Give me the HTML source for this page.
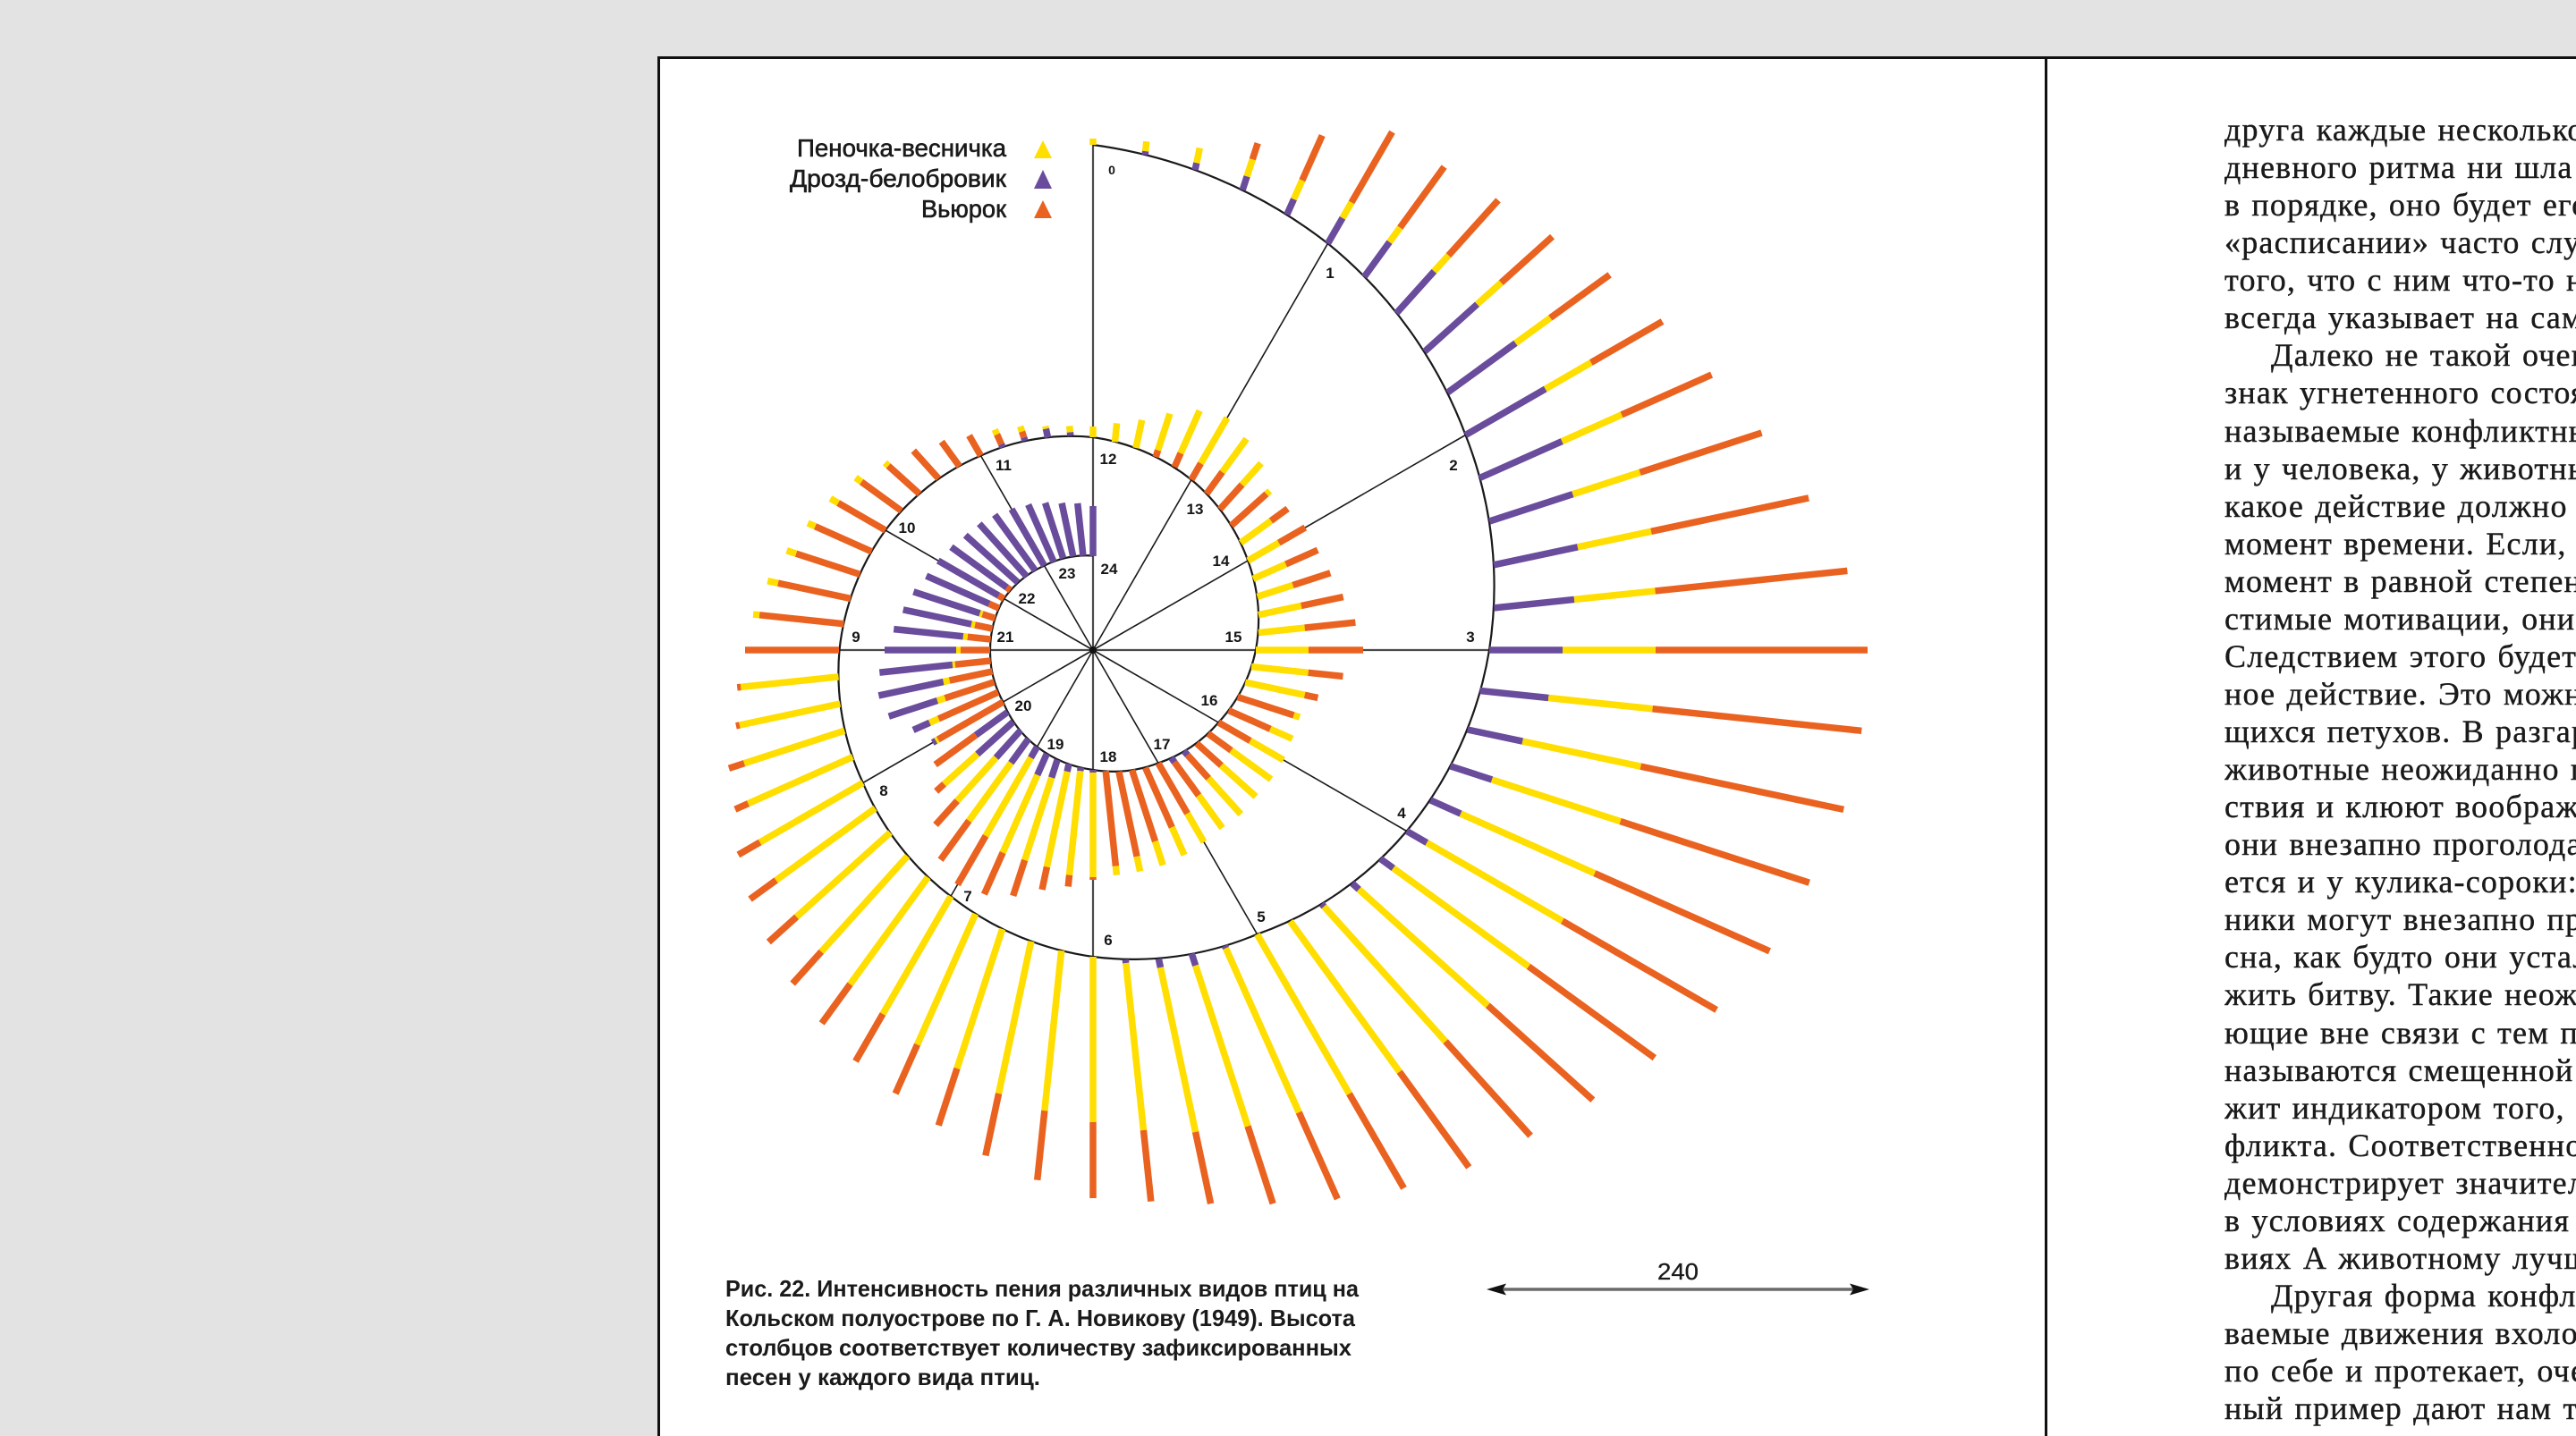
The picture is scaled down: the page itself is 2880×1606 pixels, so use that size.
<!DOCTYPE html>
<html><head><meta charset="utf-8">
<style>
html,body{margin:0;padding:0;width:2880px;height:1606px;overflow:hidden;background:#e3e3e3}
#clip{position:absolute;left:2487px;top:0;width:393px;height:1606px;overflow:hidden}
#t{position:absolute;left:0;top:124px;font-family:"Liberation Serif","DejaVu Serif",serif;font-size:36px;line-height:42.06px;color:#1a1a1a;white-space:nowrap;letter-spacing:1.2px;word-spacing:2px;-webkit-text-stroke:0.4px #1a1a1a}
#t div.i{padding-left:52px}
.b path{fill:none;stroke-width:7.5}
.p{stroke:#6a4c9c}.y{stroke:#ffde00}.o{stroke:#ea6220}
.lab{font-family:"Liberation Sans",sans-serif;font-size:17px;font-weight:bold;fill:#151515;text-anchor:middle}
</style></head><body>
<svg width="2880" height="1606" style="position:absolute;left:0;top:0" xmlns="http://www.w3.org/2000/svg">
<rect x="0" y="0" width="2880" height="1606" fill="#e3e3e3"/>
<rect x="736" y="64" width="2144" height="1542" fill="#ffffff"/>
<rect x="735" y="63" width="3" height="1543" fill="#111"/>
<rect x="735" y="63" width="2145" height="3" fill="#111"/>
<rect x="2286" y="63" width="3" height="1543" fill="#111"/>

<g stroke="#1a1a1a" stroke-width="1.6" fill="none">
<path d="M1222 727L1484.5 272.3M1222 727L1638.5 486.5M1222 727L1572.7 929.5M1222 727L1405.5 1044.8M1222 727L1063 1002.4M1222 727L964.8 875.5M1222 727L989.9 593M1222 727L1096.5 509.6"/>
</g>
<g stroke="#4a4a4a" stroke-width="2.2" fill="none">
<path d="M1222 727L1222 162M1222 727L1665 727M1222 727L1222 1070M1222 727L938.5 727"/>
</g>

<path fill="none" stroke="#1a1a1a" stroke-width="2.2" d="M1222 162 A545 545 0 0 1 1484.5 272.3 A503 503 0 0 1 1638.5 486.5 A462 462 0 0 1 1665 727 A424 424 0 0 1 1572.7 929.5 A386 386 0 0 1 1405.5 1044.8 A355 355 0 0 1 1222 1070 A330 330 0 0 1 1063 1002.4 A307 307 0 0 1 964.8 875.5 A290 290 0 0 1 938.5 727 A276 276 0 0 1 989.9 593 A259 259 0 0 1 1096.5 509.6 A244 244 0 0 1 1222 489 A229 229 0 0 1 1332 536.5 A210 210 0 0 1 1395.2 627 A191 191 0 0 1 1404 727 A172 172 0 0 1 1362.3 808 A154 154 0 0 1 1295 853.4 A140 140 0 0 1 1222 861 A129.5 129.5 0 0 1 1159.5 835.3 A120.5 120.5 0 0 1 1121.5 785 A115.5 115.5 0 0 1 1107 727 A115 115 0 0 1 1122.4 669.5 A112 112 0 0 1 1167.5 632.6 A107 107 0 0 1 1222 621.5"/>

<g class="b" transform="translate(1222 727)">
<g transform="rotate(0)"><path class="y" d="M0-565V-572"/></g>
<g transform="rotate(6)"><path class="p" d="M0-557V-561"/><path class="y" d="M0-561V-572"/></g>
<g transform="rotate(12)"><path class="p" d="M0-549V-557"/><path class="y" d="M0-557V-574"/></g>
<g transform="rotate(18)"><path class="p" d="M0-541V-557"/><path class="y" d="M0-557V-577"/><path class="o" d="M0-577V-596"/></g>
<g transform="rotate(24)"><path class="p" d="M0-533V-552"/><path class="y" d="M0-552V-575"/><path class="o" d="M0-575V-630"/></g>
<g transform="rotate(30)"><path class="p" d="M0-525V-558"/><path class="y" d="M0-558V-578"/><path class="o" d="M0-578V-669"/></g>
<g transform="rotate(36)"><path class="p" d="M0-516V-564"/><path class="y" d="M0-564V-584"/><path class="o" d="M0-584V-668"/></g>
<g transform="rotate(42)"><path class="p" d="M0-507V-570"/><path class="y" d="M0-570V-594"/><path class="o" d="M0-594V-677"/></g>
<g transform="rotate(48)"><path class="p" d="M0-499V-578"/><path class="y" d="M0-578V-614"/><path class="o" d="M0-614V-691"/></g>
<g transform="rotate(54)"><path class="p" d="M0-490V-584"/><path class="y" d="M0-584V-632"/><path class="o" d="M0-632V-714"/></g>
<g transform="rotate(60)"><path class="p" d="M0-481V-584"/><path class="y" d="M0-584V-643"/><path class="o" d="M0-643V-735"/></g>
<g transform="rotate(66)"><path class="p" d="M0-473V-574"/><path class="y" d="M0-574V-647"/><path class="o" d="M0-647V-757"/></g>
<g transform="rotate(72)"><path class="p" d="M0-466V-564"/><path class="y" d="M0-564V-643"/><path class="o" d="M0-643V-786"/></g>
<g transform="rotate(78)"><path class="p" d="M0-458V-554"/><path class="y" d="M0-554V-638"/><path class="o" d="M0-638V-818"/></g>
<g transform="rotate(84)"><path class="p" d="M0-451V-541"/><path class="y" d="M0-541V-632"/><path class="o" d="M0-632V-848"/></g>
<g transform="rotate(90)"><path class="p" d="M0-443V-525"/><path class="y" d="M0-525V-629"/><path class="o" d="M0-629V-866"/></g>
<g transform="rotate(96)"><path class="p" d="M0-435V-512"/><path class="y" d="M0-512V-629"/><path class="o" d="M0-629V-864"/></g>
<g transform="rotate(102)"><path class="p" d="M0-428V-491"/><path class="y" d="M0-491V-626"/><path class="o" d="M0-626V-858"/></g>
<g transform="rotate(108)"><path class="p" d="M0-420V-469"/><path class="y" d="M0-469V-620"/><path class="o" d="M0-620V-842"/></g>
<g transform="rotate(114)"><path class="p" d="M0-413V-450"/><path class="y" d="M0-450V-614"/><path class="o" d="M0-614V-828"/></g>
<g transform="rotate(120)"><path class="p" d="M0-405V-431"/><path class="y" d="M0-431V-606"/><path class="o" d="M0-606V-805"/></g>
<g transform="rotate(126)"><path class="p" d="M0-397V-415"/><path class="y" d="M0-415V-602"/><path class="o" d="M0-602V-776"/></g>
<g transform="rotate(132)"><path class="p" d="M0-390V-400"/><path class="y" d="M0-400V-594"/><path class="o" d="M0-594V-752"/></g>
<g transform="rotate(138)"><path class="p" d="M0-382V-386"/><path class="y" d="M0-386V-589"/><path class="o" d="M0-589V-731"/></g>
<g transform="rotate(144)"><path class="y" d="M0-375V-583"/><path class="o" d="M0-583V-715"/></g>
<g transform="rotate(150)"><path class="y" d="M0-367V-573"/><path class="o" d="M0-573V-695"/></g>
<g transform="rotate(156)"><path class="p" d="M0-362V-365"/><path class="y" d="M0-365V-566"/><path class="o" d="M0-566V-672"/></g>
<g transform="rotate(162)"><path class="p" d="M0-357V-371"/><path class="y" d="M0-371V-560"/><path class="o" d="M0-560V-651"/></g>
<g transform="rotate(168)"><path class="p" d="M0-353V-363"/><path class="y" d="M0-363V-551"/><path class="o" d="M0-551V-633"/></g>
<g transform="rotate(174)"><path class="p" d="M0-348V-352"/><path class="y" d="M0-352V-540"/><path class="o" d="M0-540V-620"/></g>
<g transform="rotate(180)"><path class="y" d="M0-343V-528"/><path class="o" d="M0-528V-613"/></g>
<g transform="rotate(186)"><path class="y" d="M0-338V-518"/><path class="o" d="M0-518V-596"/></g>
<g transform="rotate(192)"><path class="y" d="M0-333V-507"/><path class="o" d="M0-507V-578"/></g>
<g transform="rotate(198)"><path class="y" d="M0-328V-492"/><path class="o" d="M0-492V-559"/></g>
<g transform="rotate(204)"><path class="y" d="M0-323V-483"/><path class="o" d="M0-483V-543"/></g>
<g transform="rotate(210)"><path class="y" d="M0-318V-470"/><path class="o" d="M0-470V-531"/></g>
<g transform="rotate(216)"><path class="y" d="M0-314V-462"/><path class="o" d="M0-462V-516"/></g>
<g transform="rotate(222)"><path class="y" d="M0-310V-454"/><path class="o" d="M0-454V-502"/></g>
<g transform="rotate(228)"><path class="y" d="M0-305V-446"/><path class="o" d="M0-446V-488"/></g>
<g transform="rotate(234)"><path class="y" d="M0-301V-438"/><path class="o" d="M0-438V-474"/></g>
<g transform="rotate(240)"><path class="y" d="M0-297V-430"/><path class="o" d="M0-430V-458"/></g>
<g transform="rotate(246)"><path class="y" d="M0-294V-422"/><path class="o" d="M0-422V-438"/></g>
<g transform="rotate(252)"><path class="y" d="M0-292V-410"/><path class="o" d="M0-410V-428"/></g>
<g transform="rotate(258)"><path class="y" d="M0-289V-404"/><path class="o" d="M0-404V-408"/></g>
<g transform="rotate(264)"><path class="y" d="M0-286V-396"/><path class="o" d="M0-396V-400"/></g>
<g transform="rotate(270)"><path class="o" d="M0-284V-389"/></g>
<g transform="rotate(276)"><path class="o" d="M0-280V-375"/><path class="y" d="M0-375V-382"/></g>
<g transform="rotate(282)"><path class="o" d="M0-277V-360"/><path class="y" d="M0-360V-372"/></g>
<g transform="rotate(288)"><path class="o" d="M0-274V-349"/><path class="y" d="M0-349V-360"/></g>
<g transform="rotate(294)"><path class="o" d="M0-271V-340"/><path class="y" d="M0-340V-349"/></g>
<g transform="rotate(300)"><path class="o" d="M0-268V-329"/><path class="y" d="M0-329V-339"/></g>
<g transform="rotate(306)"><path class="o" d="M0-265V-320"/><path class="y" d="M0-320V-328"/></g>
<g transform="rotate(312)"><path class="o" d="M0-261V-308"/><path class="y" d="M0-308V-313"/></g>
<g transform="rotate(318)"><path class="o" d="M0-258V-300"/></g>
<g transform="rotate(324)"><path class="o" d="M0-254V-288"/></g>
<g transform="rotate(330)"><path class="o" d="M0-251V-277"/></g>
<g transform="rotate(336)"><path class="p" d="M0-248V-252"/><path class="o" d="M0-252V-264"/><path class="y" d="M0-264V-270"/></g>
<g transform="rotate(342)"><path class="p" d="M0-246V-250"/><path class="o" d="M0-250V-257"/><path class="y" d="M0-257V-263"/></g>
<g transform="rotate(348)"><path class="p" d="M0-243V-253"/><path class="y" d="M0-253V-256"/></g>
<g transform="rotate(354)"><path class="p" d="M0-241V-245"/><path class="y" d="M0-245V-252"/></g>
<g transform="rotate(0)"><path class="y" d="M0-238V-250"/></g>
<g transform="rotate(6)"><path class="y" d="M0-234V-255"/></g>
<g transform="rotate(12)"><path class="y" d="M0-231V-263"/></g>
<g transform="rotate(18)"><path class="o" d="M0-227V-235"/><path class="y" d="M0-235V-278"/></g>
<g transform="rotate(24)"><path class="o" d="M0-224V-241"/><path class="y" d="M0-241V-293"/></g>
<g transform="rotate(30)"><path class="o" d="M0-220V-241"/><path class="y" d="M0-241V-300"/></g>
<g transform="rotate(36)"><path class="o" d="M0-216V-246"/><path class="y" d="M0-246V-292"/></g>
<g transform="rotate(42)"><path class="o" d="M0-212V-249"/><path class="y" d="M0-249V-281"/></g>
<g transform="rotate(48)"><path class="o" d="M0-208V-261"/><path class="y" d="M0-261V-266"/></g>
<g transform="rotate(54)"><path class="y" d="M0-204V-246"/><path class="o" d="M0-246V-269"/></g>
<g transform="rotate(60)"><path class="y" d="M0-200V-240"/><path class="o" d="M0-240V-274"/></g>
<g transform="rotate(66)"><path class="y" d="M0-196V-236"/><path class="o" d="M0-236V-275"/></g>
<g transform="rotate(72)"><path class="y" d="M0-193V-235"/><path class="o" d="M0-235V-279"/></g>
<g transform="rotate(78)"><path class="y" d="M0-189V-238"/><path class="o" d="M0-238V-286"/></g>
<g transform="rotate(84)"><path class="y" d="M0-186V-238"/><path class="o" d="M0-238V-295"/></g>
<g transform="rotate(90)"><path class="y" d="M0-182V-241"/><path class="o" d="M0-241V-302"/></g>
<g transform="rotate(96)"><path class="y" d="M0-178V-242"/><path class="o" d="M0-242V-281"/></g>
<g transform="rotate(102)"><path class="y" d="M0-174V-242"/><path class="o" d="M0-242V-257"/></g>
<g transform="rotate(108)"><path class="o" d="M0-170V-236"/><path class="y" d="M0-236V-243"/></g>
<g transform="rotate(114)"><path class="o" d="M0-166V-217"/><path class="y" d="M0-217V-244"/></g>
<g transform="rotate(120)"><path class="o" d="M0-162V-203"/><path class="y" d="M0-203V-246"/></g>
<g transform="rotate(126)"><path class="o" d="M0-159V-191"/><path class="y" d="M0-191V-246"/></g>
<g transform="rotate(132)"><path class="o" d="M0-156V-193"/><path class="y" d="M0-193V-245"/></g>
<g transform="rotate(138)"><path class="p" d="M0-152V-158"/><path class="o" d="M0-158V-193"/><path class="y" d="M0-193V-247"/></g>
<g transform="rotate(144)"><path class="p" d="M0-149V-155"/><path class="o" d="M0-155V-201"/><path class="y" d="M0-201V-246"/></g>
<g transform="rotate(150)"><path class="o" d="M0-146V-211"/><path class="y" d="M0-211V-248"/></g>
<g transform="rotate(156)"><path class="o" d="M0-144V-217"/><path class="y" d="M0-217V-251"/></g>
<g transform="rotate(162)"><path class="o" d="M0-141V-225"/><path class="y" d="M0-225V-253"/></g>
<g transform="rotate(168)"><path class="o" d="M0-139V-236"/><path class="y" d="M0-236V-253"/></g>
<g transform="rotate(174)"><path class="o" d="M0-136V-243"/><path class="y" d="M0-243V-253"/></g>
<g transform="rotate(180)"><path class="p" d="M0-134V-137"/><path class="y" d="M0-137V-254"/><path class="o" d="M0-254V-257"/></g>
<g transform="rotate(186)"><path class="p" d="M0-132V-136"/><path class="y" d="M0-136V-253"/><path class="o" d="M0-253V-266"/></g>
<g transform="rotate(192)"><path class="p" d="M0-130V-139"/><path class="y" d="M0-139V-248"/><path class="o" d="M0-248V-274"/></g>
<g transform="rotate(198)"><path class="p" d="M0-129V-150"/><path class="y" d="M0-150V-247"/><path class="o" d="M0-247V-289"/></g>
<g transform="rotate(204)"><path class="p" d="M0-127V-153"/><path class="y" d="M0-153V-248"/><path class="o" d="M0-248V-299"/></g>
<g transform="rotate(210)"><path class="p" d="M0-125V-139"/><path class="y" d="M0-139V-240"/><path class="o" d="M0-240V-303"/></g>
<g transform="rotate(216)"><path class="p" d="M0-123V-156"/><path class="y" d="M0-156V-236"/><path class="o" d="M0-236V-290"/></g>
<g transform="rotate(222)"><path class="p" d="M0-121V-162"/><path class="y" d="M0-162V-227"/><path class="o" d="M0-227V-263"/></g>
<g transform="rotate(228)"><path class="p" d="M0-120V-174"/><path class="y" d="M0-174V-224"/><path class="o" d="M0-224V-236"/></g>
<g transform="rotate(234)"><path class="p" d="M0-118V-162"/><path class="o" d="M0-162V-218"/></g>
<g transform="rotate(240)"><path class="o" d="M0-116V-200"/><path class="y" d="M0-200V-203"/><path class="p" d="M0-203V-207"/></g>
<g transform="rotate(246)"><path class="o" d="M0-116V-189"/><path class="y" d="M0-189V-200"/><path class="p" d="M0-200V-220"/></g>
<g transform="rotate(252)"><path class="o" d="M0-116V-174"/><path class="y" d="M0-174V-183"/><path class="p" d="M0-183V-240"/></g>
<g transform="rotate(258)"><path class="o" d="M0-115V-164"/><path class="y" d="M0-164V-171"/><path class="p" d="M0-171V-245"/></g>
<g transform="rotate(264)"><path class="o" d="M0-115V-155"/><path class="y" d="M0-155V-158"/><path class="p" d="M0-158V-240"/></g>
<g transform="rotate(270)"><path class="o" d="M0-115V-148"/><path class="y" d="M0-148V-153"/><path class="p" d="M0-153V-233"/></g>
<g transform="rotate(276)"><path class="o" d="M0-115V-141"/><path class="y" d="M0-141V-146"/><path class="p" d="M0-146V-224"/></g>
<g transform="rotate(282)"><path class="o" d="M0-115V-135"/><path class="y" d="M0-135V-139"/><path class="p" d="M0-139V-217"/></g>
<g transform="rotate(288)"><path class="o" d="M0-115V-130"/><path class="y" d="M0-130V-133"/><path class="p" d="M0-133V-211"/></g>
<g transform="rotate(294)"><path class="o" d="M0-115V-127"/><path class="p" d="M0-127V-204"/></g>
<g transform="rotate(300)"><path class="o" d="M0-115V-122"/><path class="p" d="M0-122V-200"/></g>
<g transform="rotate(306)"><path class="o" d="M0-114V-119"/><path class="p" d="M0-119V-196"/></g>
<g transform="rotate(312)"><path class="p" d="M0-113V-192"/></g>
<g transform="rotate(318)"><path class="p" d="M0-111V-190"/></g>
<g transform="rotate(324)"><path class="p" d="M0-110V-187"/></g>
<g transform="rotate(330)"><path class="p" d="M0-109V-182"/></g>
<g transform="rotate(336)"><path class="p" d="M0-108V-178"/></g>
<g transform="rotate(342)"><path class="p" d="M0-108V-173"/></g>
<g transform="rotate(348)"><path class="p" d="M0-107V-168"/></g>
<g transform="rotate(354)"><path class="p" d="M0-106V-165"/></g>
<g transform="rotate(360)"><path class="p" d="M0-105V-161"/></g>
</g>

<circle cx="1222" cy="727" r="4" fill="#111"/>

<g class="lab">
<text x="1243" y="195" style="font-size:14px">0</text>
<text x="1487" y="311">1</text>
<text x="1625" y="526">2</text>
<text x="1644" y="718">3</text>
<text x="1567" y="915">4</text>
<text x="1410" y="1031">5</text>
<text x="1239" y="1057">6</text>
<text x="1082" y="1008">7</text>
<text x="988" y="890">8</text>
<text x="957" y="718">9</text>
<text x="1014" y="596">10</text>
<text x="1122" y="526">11</text>
<text x="1239" y="519">12</text>
<text x="1336" y="575">13</text>
<text x="1365" y="633">14</text>
<text x="1379" y="718">15</text>
<text x="1352" y="789">16</text>
<text x="1299" y="838">17</text>
<text x="1239" y="852">18</text>
<text x="1180" y="838">19</text>
<text x="1144" y="795">20</text>
<text x="1124" y="718">21</text>
<text x="1148" y="675">22</text>
<text x="1193" y="647">23</text>
<text x="1240" y="642">24</text>
</g>

<g font-family="Liberation Sans, sans-serif" font-size="28" fill="#1a1a1a" stroke="#1a1a1a" stroke-width="0.6">
<text x="891" y="175" textLength="234" lengthAdjust="spacingAndGlyphs">Пеночка-весничка</text>
<text x="883" y="209" textLength="242" lengthAdjust="spacingAndGlyphs">Дрозд-белобровик</text>
<text x="1030" y="243" textLength="95" lengthAdjust="spacingAndGlyphs">Вьюрок</text>
</g>
<polygon points="1156,177 1176,177 1166,157" fill="#ffde00"/>
<polygon points="1156,211 1176,211 1166,190" fill="#6a4c9c"/>
<polygon points="1156,244 1176,244 1166,224" fill="#ea6220"/>

<g font-family="Liberation Sans, sans-serif" font-size="26" font-weight="bold" fill="#1a1a1a">
<text x="811" y="1450" textLength="708" lengthAdjust="spacingAndGlyphs">Рис. 22. Интенсивность пения различных видов птиц на</text>
<text x="811" y="1483" textLength="704" lengthAdjust="spacingAndGlyphs">Кольском полуострове по Г. А. Новикову (1949). Высота</text>
<text x="811" y="1516" textLength="700" lengthAdjust="spacingAndGlyphs">столбцов соответствует количеству зафиксированных</text>
<text x="811" y="1549" textLength="352" lengthAdjust="spacingAndGlyphs">песен у каждого вида птиц.</text>
</g>

<line x1="1676" y1="1442" x2="2076" y2="1442" stroke="#6a6a6a" stroke-width="3.5"/>
<polygon points="1662,1442 1684,1435.5 1680,1442 1684,1448.5" fill="#111"/>
<polygon points="2090,1442 2068,1435.5 2072,1442 2068,1448.5" fill="#111"/>
<text x="1876" y="1431" font-family="Liberation Sans, sans-serif" font-size="26" fill="#1a1a1a" text-anchor="middle" textLength="46" lengthAdjust="spacingAndGlyphs" stroke="#1a1a1a" stroke-width="0.3">240</text>
</svg>

<div id="clip"><div id="t">
<div>друга каждые несколько минут, то о</div>
<div>дневного ритма ни шла речь, то если</div>
<div>в порядке, оно будет его соблюдать</div>
<div>«расписании» часто служат признаком</div>
<div>того, что с ним что-то не так, но это</div>
<div>всегда указывает на самочувствие</div>
<div class="i">Далеко не такой очевидный</div>
<div>знак угнетенного состояния — так</div>
<div>называемые конфликтные ситуации</div>
<div>и у человека, у животных возникает</div>
<div>какое действие должно быть выбрано</div>
<div>момент времени. Если, например, в</div>
<div>момент в равной степени сильны две</div>
<div>стимые мотивации, они блокируют</div>
<div>Следствием этого будет неожидан</div>
<div>ное действие. Это можно наблюдать</div>
<div>щихся петухов. В разгар схватки</div>
<div>животные неожиданно прерывают</div>
<div>ствия и клюют воображаемый корм</div>
<div>они внезапно проголодались. То же</div>
<div>ется и у кулика-сороки: соперники</div>
<div>ники могут внезапно прервать бой</div>
<div>сна, как будто они устали продол</div>
<div>жить битву. Такие неожиданные</div>
<div>ющие вне связи с тем положением</div>
<div>называются смещенной активностью</div>
<div>жит индикатором того, что есть кон</div>
<div>фликта. Соответственно, животное</div>
<div>демонстрирует значительно больше</div>
<div>в условиях содержания В, чем в усло</div>
<div>виях А животному лучше живется</div>
<div class="i">Другая форма конфликта — так назы</div>
<div>ваемые движения вхолостую, которое</div>
<div>по себе и протекает, очевидно, без</div>
<div>ный пример дают нам ткачики, кото</div>
</div></div>
</body></html>
